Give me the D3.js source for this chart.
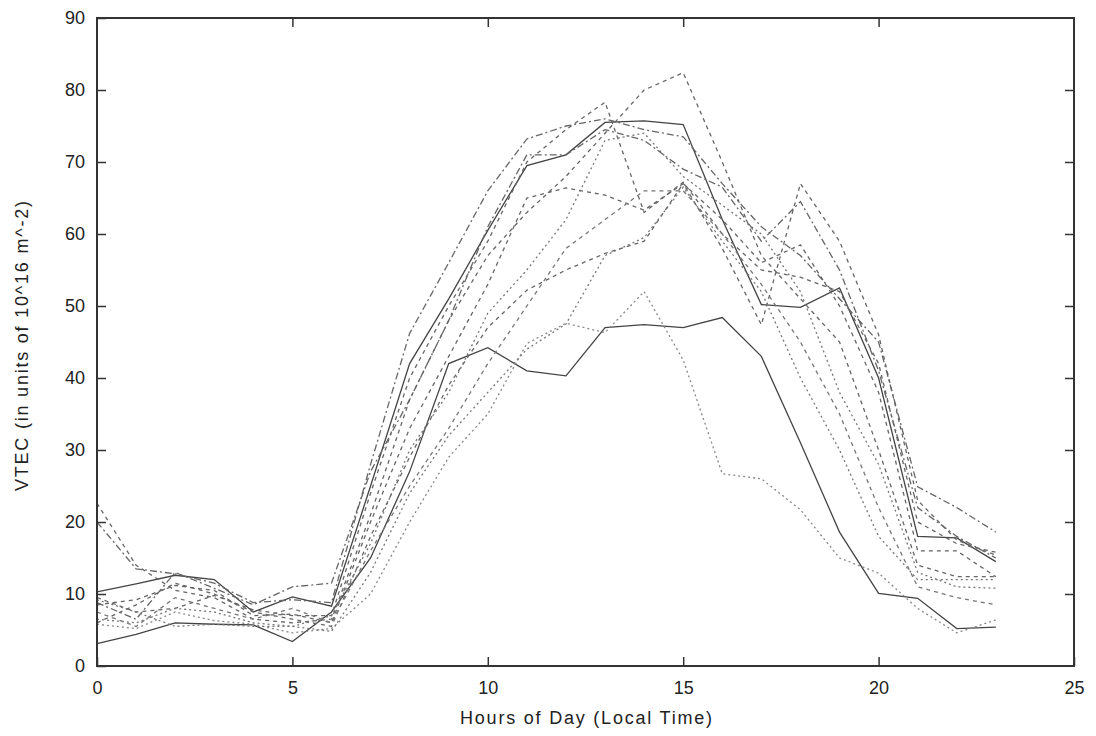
<!DOCTYPE html>
<meta charset="utf-8">
<style>
    body { margin: 0; background: #fff; }
    .tick text, .axisLabel { font-family: "Liberation Sans", Arial, sans-serif; fill: #222; }
</style>
<body>
<script src="https://d3js.org/d3.v7.min.js"></script>
<script>
    // hours of the day (local time)
    let hours = d3.range(0, 24);

    // VTEC per hour, one array per day
    let day1 = [10.3,11.4,12.6,12.0,7.5,9.6,8.3,25,42,51,60.5,69.5,71,75.5,75.7,75.2,62,50.2,49.8,52.5,40,18,17.8,14.5];
    let day2 = [3.1,4.4,6.0,5.8,5.7,3.4,7.5,15,27,42,44.2,41,40.3,47,47.4,47,48.4,43,31,18.6,10.1,9.4,5.2,5.4];
    let day3 = [5.8,5.2,7.5,6.3,5.8,4.6,5.2,10,20,29,35,44.8,47.6,46.3,52,42.5,26.7,26,21.7,15,12.9,8,4.6,6.4];
    let day4 = [22.6,14,10.5,9.5,6.5,6,6.5,21,37,48,57,63,68,74,80,82.4,70,57,51,45,30,14,12.4,12.4];
    let day5 = [20,13.5,12.8,11.5,8.8,9.2,8.8,28,46.2,56,66,73.2,75,76,74.5,73.5,67,61,57,51,45,24.9,22,18.6];
    let day6 = [9.5,7.5,8,9.8,7.8,7,7,24,40,50,59,70,74.5,78.3,63,67.2,60,55,54,52,42,20,17,15.8];
    let day7 = [8.5,9.2,11.2,10.5,7,7.2,6,20,33,43,53,65,66.4,65.4,63.3,67,58,47.4,67,59,46,23,17.5,15.4];
    let day8 = [8.8,6.5,13,10.8,8.5,11,11.5,27,37,48,61,71,71,74.5,73,69,66.5,59,64.5,55,41,22,18,15];
    let day9 = [6,8.5,11.5,10,7.5,6.5,5.5,18,29,39,47,52.2,55,57.3,59,67,62,56,58.5,50,38,16,16,12.4];
    let day10 = [9.2,7.5,5.5,5.8,5.5,5.5,7,17,30,38,49,55,62,73,74,68,64,60,52,38,28,13,11,10.8];
    let day11 = [7.5,5.5,9.5,8,6.5,8,6,16,25,33,42,50,58,62,66,66,60,53,45,35,22,11,9.5,8.5];
    let day12 = [6.5,6,8,7.5,6,5.5,4.8,13,24,32,38,44,47.5,57,59.5,66.5,59,52,40,30,18,12,12,12];

    let days = [day1, day2, day3, day4, day5, day6, day7, day8, day9, day10, day11, day12];

    // line style per day: solid, dashed, dash-dot, dotted
    let dashes = ["", "", "2,3", "4,4", "7,3,2,3", "4,4", "4,4", "7,3,2,3", "4,4", "2,3", "4,4", "2,3"];
    let colors = ["#444", "#444", "#888", "#666", "#666", "#666", "#666", "#666", "#666", "#777", "#777", "#777"];

    let xTicks = [0, 5, 10, 15, 20, 25];
    let yTicks = [0, 10, 20, 30, 40, 50, 60, 70, 80, 90];

    let width = 1096, height = 736;
    let margin = {top: 18, right: 22, bottom: 70, left: 97};

    let svg = d3.select("body").append("svg")
        .attr("width", width)
        .attr("height", height);

    let x = d3.scaleLinear().domain([0, 25]).range([margin.left, width - margin.right]);
    let y = d3.scaleLinear().domain([0, 90]).range([height - margin.bottom, margin.top]);

    // inward ticks on all four sides, like gnuplot
    let tickLen = 9;
    svg.append("g")
        .attr("transform", "translate(0," + y(0) + ")")
        .call(d3.axisBottom(x).tickValues(xTicks).tickSizeInner(-tickLen).tickSizeOuter(0).tickPadding(15))
        .call(g => g.select(".domain").remove());
    svg.append("g")
        .attr("transform", "translate(0," + y(90) + ")")
        .call(d3.axisTop(x).tickValues(xTicks.slice(1, -1)).tickSizeInner(-tickLen).tickSizeOuter(0).tickFormat(""))
        .call(g => g.select(".domain").remove());
    svg.append("g")
        .attr("transform", "translate(" + x(0) + ",0)")
        .call(d3.axisLeft(y).tickValues(yTicks).tickSizeInner(-tickLen).tickSizeOuter(0).tickPadding(12))
        .call(g => g.select(".domain").remove());
    svg.append("g")
        .attr("transform", "translate(" + x(25) + ",0)")
        .call(d3.axisRight(y).tickValues(yTicks.slice(1, -1)).tickSizeInner(-tickLen).tickSizeOuter(0).tickFormat(""))
        .call(g => g.select(".domain").remove());

    svg.selectAll(".tick line").attr("stroke", "#333").attr("stroke-width", 1.5);
    svg.selectAll(".tick text").style("font-size", "18px");

    // the series
    let line = d3.line()
        .x((d, i) => x(hours[i]))
        .y(d => y(d));

    svg.append("g")
        .selectAll("path")
        .data(days)
        .join("path")
            .attr("d", line)
            .attr("fill", "none")
            .attr("stroke", (d, i) => colors[i])
            .attr("stroke-width", 1.3)
            .attr("stroke-dasharray", (d, i) => dashes[i]);

    // plot frame
    svg.append("rect")
        .attr("x", x(0))
        .attr("y", y(90))
        .attr("width", x(25) - x(0))
        .attr("height", y(0) - y(90))
        .attr("fill", "none")
        .attr("stroke", "#333")
        .attr("stroke-width", 2);

    // axis titles
    svg.append("text").attr("class", "axisLabel")
        .attr("x", 586)
        .attr("y", 724)
        .attr("text-anchor", "middle")
        .attr("textLength", 252)
        .style("font-size", "18px")
        .text("Hours of Day (Local Time)");

    svg.append("text").attr("class", "axisLabel")
        .attr("transform", "translate(28," + ((y(0) + y(90)) / 2 + 4) + ") rotate(-90)")
        .attr("text-anchor", "middle")
        .attr("textLength", 290)
        .style("font-size", "18px")
        .text("VTEC (in units of 10^16 m^-2)");
</script>
</body>
